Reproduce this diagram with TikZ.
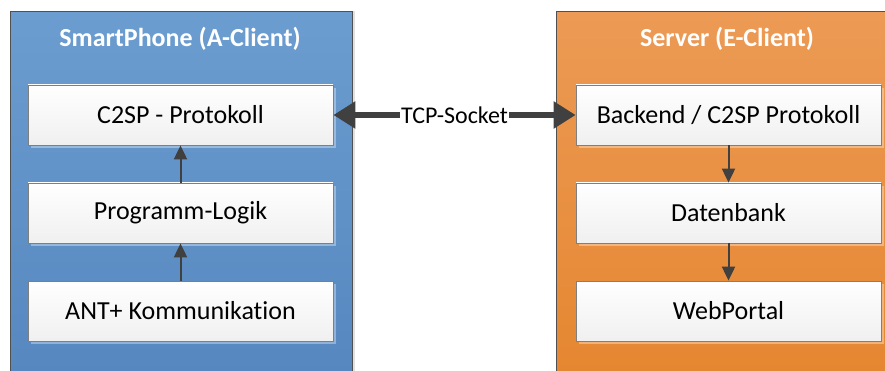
\documentclass[tikz,border=0pt]{standalone}
\usepackage{fontspec}
\setmainfont{Carlito}[Ligatures=NoCommon]
\usetikzlibrary{arrows.meta,shadows}
\definecolor{blueTop}{HTML}{6B9DD0}
\definecolor{blueBot}{HTML}{5586BE}
\definecolor{orangeTop}{HTML}{EC9A55}
\definecolor{orangeBot}{HTML}{E5862F}
\definecolor{lineGray}{HTML}{404040}
\definecolor{boxEdge}{HTML}{7F7F7F}
\definecolor{frameEdge}{HTML}{505050}
\tikzset{
  container/.style={rectangle, draw=frameEdge, line width=0.8pt, anchor=north west,
    inner sep=0pt, drop shadow={shadow xshift=3pt, shadow yshift=0pt, fill=gray!40, opacity=0.6}},
  title/.style={text=white, font=\bfseries\fontsize{26}{30}\selectfont, inner sep=0pt},
  layerbox/.style={rectangle, draw=boxEdge, line width=0.8pt, minimum width=305pt,
    minimum height=60pt, inner sep=0pt, top color=white, bottom color=gray!12,
    font=\fontsize{26}{30}\selectfont,
    drop shadow={shadow xshift=3pt, shadow yshift=-3pt, fill=white, opacity=0.35}},
  flow/.style={draw=lineGray, line width=2pt, -{Triangle[length=14pt,width=13pt]}},
  socket/.style={draw=lineGray, line width=5.5pt,
    {Triangle[length=22pt,width=26pt]}-{Triangle[length=22pt,width=26pt]}},
}
\begin{document}
\begin{tikzpicture}[x=1pt,y=-1pt]
\useasboundingbox (0,0) rectangle (885,371);
\clip (0,0) rectangle (885,371);

% client side
\node[container, minimum width=342pt, minimum height=380pt,
      top color=blueTop, bottom color=blueBot] (phone) at (10,11) {};
\node[title] (phonetitle) at (180,39) {SmartPhone (A-Client)};
\node[layerbox] (c2sp)  at (180.5,115) {C2SP - Protokoll};
\node[layerbox] (logic) at (180.5,213) {Programm-Logik};
\node[layerbox] (ant)   at (180.5,311) {ANT+ Kommunikation};

% server side
\node[container, minimum width=345pt, minimum height=380pt,
      top color=orangeTop, bottom color=orangeBot] (server) at (556,11) {};
\node[title] (servertitle) at (727,39) {Server (E-Client)};
\node[layerbox] (backend) at (728.5,115) {Backend / C2SP Protokoll};
\node[layerbox] (db)      at (728.5,213) {Datenbank};
\node[layerbox] (web)     at (728.5,311) {WebPortal};

% connectors
\draw[flow] (ant.north) -- (logic.south);
\draw[flow] (logic.north) -- (c2sp.south);
\draw[flow] (backend.south) -- (db.north);
\draw[flow] (db.south) -- (web.north);
\draw[socket] (c2sp.east) -- (backend.west)
  node[midway, fill=white, inner sep=1pt, font=\fontsize{24}{28}\selectfont] (tcp) {TCP-Socket};
\end{tikzpicture}
\end{document}
